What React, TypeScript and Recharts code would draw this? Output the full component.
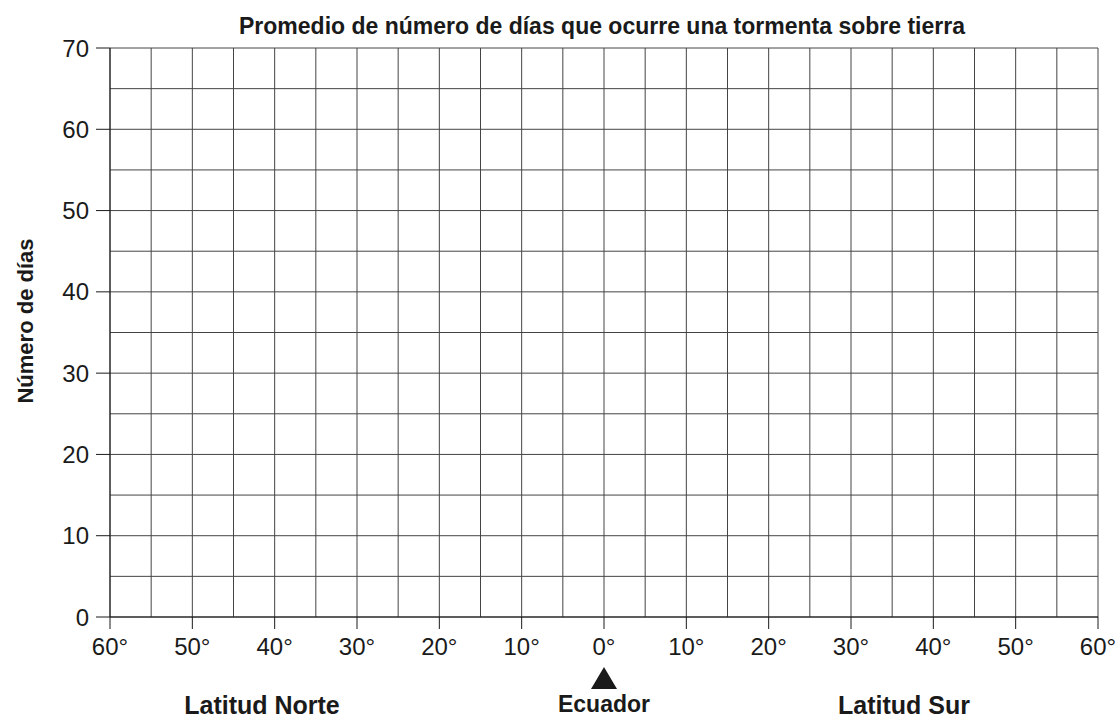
import React from "react";
import { ScatterChart, Scatter, XAxis, YAxis, CartesianGrid } from "recharts";

const xTicks = [-60, -50, -40, -30, -20, -10, 0, 10, 20, 30, 40, 50, 60];
const yTicks = [0, 10, 20, 30, 40, 50, 60, 70];
const xGrid = [-60, -55, -50, -45, -40, -35, -30, -25, -20, -15, -10, -5, 0, 5, 10, 15, 20, 25, 30, 35, 40, 45, 50, 55, 60];
const yGrid = [0, 5, 10, 15, 20, 25, 30, 35, 40, 45, 50, 55, 60, 65, 70];
// blank worksheet: only invisible anchors at the corners of the frame
const frameAnchors = [
  { lat: -60, days: 0 },
  { lat: 60, days: 70 },
];

const title = "Promedio de número de días que ocurre una tormenta sobre tierra";
const yLabel = "Número de días";
const northLabel = "Latitud Norte";
const southLabel = "Latitud Sur";
const equatorLabel = "Ecuador";

const FONT = "'Liberation Sans', Arial, Helvetica, sans-serif";
const INK = "#1a1a1a";

const XTick = (props: any) => {
  const { x, y, payload } = props;
  const v = payload.value as number;
  return (
    <g>
      <text x={x} y={y + 23} textAnchor="middle" fontSize={24} fill={INK} fontFamily={FONT}>
        {Math.abs(v) + "°"}
      </text>
      {v === 0 && (
        <g>
          <polygon points={`${x - 13},${y + 57} ${x + 13},${y + 57} ${x},${y + 35}`} fill={INK} />
          <text x={x} y={y + 80} textAnchor="middle" fontSize={23} fontWeight="bold" fill={INK} fontFamily={FONT}>
            {equatorLabel}
          </text>
        </g>
      )}
    </g>
  );
};

export default function App() {
  return (
    <div style={{ position: "absolute", left: 0, top: 0, width: 1116, height: 719, background: "#fff" }}>
      <ScatterChart width={1116} height={719} margin={{ top: 48, right: 18, bottom: 72, left: 50 }}>
        <CartesianGrid stroke="#444" strokeWidth={1} verticalValues={xGrid} horizontalValues={yGrid} />
        <XAxis
          type="number"
          dataKey="lat"
          domain={[-60, 60]}
          ticks={xTicks}
          interval={0}
          height={30}
          axisLine={{ stroke: INK }}
          tickLine={{ stroke: INK }}
          tickSize={12}
          tickMargin={3}
          tick={<XTick />}
        />
        <YAxis
          type="number"
          dataKey="days"
          domain={[0, 70]}
          ticks={yTicks}
          interval={0}
          width={60}
          axisLine={{ stroke: INK }}
          tickLine={{ stroke: INK }}
          tickSize={14}
          tickMargin={7}
          tick={{ fontSize: 24, fill: INK, fontFamily: FONT }}
        />
        <Scatter data={frameAnchors} isAnimationActive={false} shape={() => <g />} />
        <text x={602} y={34} textAnchor="middle" fontSize={23} fontWeight="bold" fill={INK} fontFamily={FONT}>
          {title}
        </text>
        <text x={33} y={321} textAnchor="middle" fontSize={22} fontWeight="bold" fill={INK} fontFamily={FONT} transform="rotate(-90 33 321)">
          {yLabel}
        </text>
        <text x={262} y={714} textAnchor="middle" fontSize={25} fontWeight="bold" fill={INK} fontFamily={FONT}>
          {northLabel}
        </text>
        <text x={904} y={714} textAnchor="middle" fontSize={25} fontWeight="bold" fill={INK} fontFamily={FONT}>
          {southLabel}
        </text>
      </ScatterChart>
    </div>
  );
}
